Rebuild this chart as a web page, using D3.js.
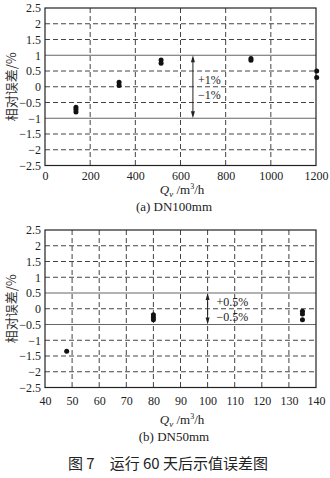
<!DOCTYPE html>
<html>
<head>
<meta charset="utf-8">
<script src="https://cdn.jsdelivr.net/npm/d3@7"></script>
<style>
  body { margin: 0; background: #fff; }
  svg { display: block; }
  .tick text { font-family: "Liberation Serif", "DejaVu Serif", serif; font-size: 12px; fill: #222; }
</style>
</head>
<body>
<div id="chart"></div>
<script>
// DN100mm
var flowA = [137, 137, 137, 328, 328, 514, 514, 912, 912, 1203, 1203];
var errA  = [-0.65, -0.72, -0.8, 0.14, 0.04, 0.85, 0.75, 0.9, 0.84, 0.5, 0.29];
var xTicksA = [0, 200, 400, 600, 800, 1000, 1200];
// DN50mm
var flowB = [48, 80, 80, 80, 135, 135, 135];
var errB  = [-1.35, -0.19, -0.27, -0.35, -0.08, -0.17, -0.35];
var xTicksB = [40, 50, 60, 70, 80, 90, 100, 110, 120, 130, 140];
var yTicks = [2.5, 2, 1.5, 1, 0.5, 0, -0.5, -1, -1.5, -2, -2.5];

var W = 330, H = 478;
var svg = d3.select("#chart").append("svg")
  .attr("width", W).attr("height", H);

var fmt = function (d) { return d < 0 ? "\u2212" + Math.abs(d) : "" + d; };

function drawPanel(o) {
  var x = d3.scaleLinear().domain(o.xDomain).range([45, 316]);
  var y = d3.scaleLinear().domain([-2.5, 2.5]).range([o.bottom, o.top]);
  var g = svg.append("g");

  // dashed grid
  g.selectAll(".hgrid")
    .data(yTicks.filter(function (d) { return Math.abs(d) !== 2.5 && Math.abs(d) !== o.limit; }))
    .enter().append("line")
      .attr("x1", x.range()[0]).attr("x2", x.range()[1])
      .attr("y1", y).attr("y2", y)
      .attr("stroke", "#444").attr("stroke-width", 1)
      .attr("stroke-dasharray", "5,3");

  g.selectAll(".vgrid")
    .data(o.xTicks.slice(1, -1))
    .enter().append("line")
      .attr("x1", x).attr("x2", x)
      .attr("y1", o.top).attr("y2", o.bottom)
      .attr("stroke", "#444").attr("stroke-width", 1)
      .attr("stroke-dasharray", "5,3");

  // limit lines
  g.selectAll(".lim")
    .data([o.limit, -o.limit])
    .enter().append("line")
      .attr("x1", x.range()[0]).attr("x2", x.range()[1])
      .attr("y1", y).attr("y2", y)
      .attr("stroke", "#666").attr("stroke-width", 1.2);

  // frame
  g.append("rect")
    .attr("x", 45).attr("y", o.top)
    .attr("width", 271).attr("height", o.bottom - o.top)
    .attr("fill", "none").attr("stroke", "#222").attr("stroke-width", 1.2);

  // axes
  g.append("g")
    .attr("transform", "translate(45,0)")
    .call(d3.axisLeft(y).tickValues(yTicks).tickSize(0).tickPadding(4).tickFormat(fmt))
    .call(function (s) { s.select(".domain").remove(); });

  g.append("g")
    .attr("transform", "translate(0," + o.bottom + ")")
    .call(d3.axisBottom(x).tickValues(o.xTicks).tickSize(0).tickPadding(o.xPad).tickFormat(d3.format("d")))
    .call(function (s) { s.select(".domain").remove(); });

  // arrow
  var ax = x(o.arrowX);
  var y1 = y(o.limit), y2 = y(-o.limit);
  g.append("line")
    .attr("x1", ax).attr("x2", ax).attr("y1", y1 + 3).attr("y2", y2 - 3)
    .attr("stroke", "#222").attr("stroke-width", 1);
  g.append("path")
    .attr("d", "M" + ax + "," + y1 + "l-2,7h4z")
    .attr("fill", "#222");
  g.append("path")
    .attr("d", "M" + ax + "," + y2 + "l-2,-7h4z")
    .attr("fill", "#222");

  g.selectAll(".lbl")
    .data(o.labels)
    .enter().append("text")
      .attr("x", ax + o.labelDx)
      .attr("y", function (d, i) { return y(0) + (i === 0 ? -3 : 12); })
      .attr("font-family", "Liberation Serif, serif")
      .attr("font-size", 12)
      .attr("fill", "#222")
      .text(function (d) { return d; });

  // points
  g.selectAll(".pt")
    .data(o.xs)
    .enter().append("circle")
      .attr("cx", function (d) { return x(d); })
      .attr("cy", function (d, i) { return y(o.ys[i]); })
      .attr("r", 2.5)
      .attr("fill", "#111");

  // y title
  g.append("text")
    .attr("transform", "translate(16," + ((o.top + o.bottom) / 2) + ") rotate(-90)")
    .attr("text-anchor", "middle")
    .attr("font-family", "Noto Sans CJK SC, sans-serif")
    .attr("font-size", 13)
    .attr("fill", "#333")
    .text("相对误差/%");

  // x title
  var t = g.append("text")
    .attr("x", 182).attr("y", o.bottom + o.titleDy)
    .attr("text-anchor", "middle")
    .attr("font-family", "Liberation Serif, serif")
    .attr("font-size", 13)
    .attr("fill", "#222");
  t.append("tspan").attr("font-style", "italic").text("Q");
  t.append("tspan").attr("font-style", "italic").attr("font-size", 9).attr("dy", 3).text("v");
  t.append("tspan").attr("dy", -3).text(" /m");
  t.append("tspan").attr("font-size", 8).attr("dy", -5).text("3");
  t.append("tspan").attr("dy", 5).text("/h");

  g.append("text")
    .attr("x", 174).attr("y", o.bottom + o.titleDy + 17)
    .attr("text-anchor", "middle")
    .attr("font-family", "Liberation Serif, serif")
    .attr("font-size", 13)
    .attr("fill", "#222")
    .text(o.sub);
}

drawPanel({
  xDomain: [0, 1200], xTicks: xTicksA, xs: flowA, ys: errA,
  top: 8, bottom: 165.5, limit: 1, arrowX: 655, labelDx: 5,
  labels: ["+1%", "\u22121%"], xPad: 6, titleDy: 28, sub: "(a) DN100mm"
});

drawPanel({
  xDomain: [40, 140], xTicks: xTicksB, xs: flowB, ys: errB,
  top: 230, bottom: 387.5, limit: 0.5, arrowX: 100, labelDx: 9,
  labels: ["+0.5%", "\u22120.5%"], xPad: 9, titleDy: 36, sub: "(b) DN50mm"
});

svg.append("text")
  .attr("x", 168).attr("y", 469)
  .attr("text-anchor", "middle")
  .attr("font-family", "Noto Sans CJK SC, sans-serif")
  .attr("font-size", 15)
  .attr("fill", "#222")
  .text("图 7\u3000运行 60 天后示值误差图");
</script>
</body>
</html>
